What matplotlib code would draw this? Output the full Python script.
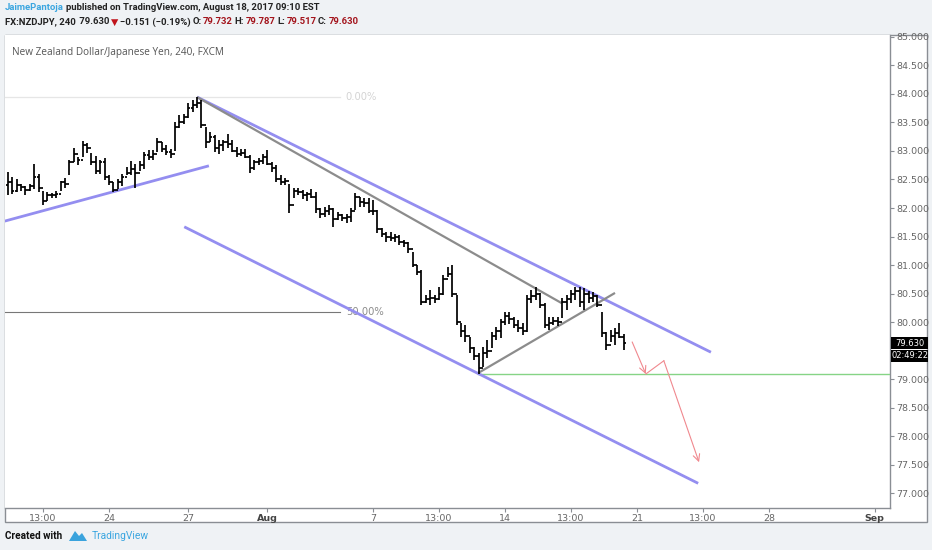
import matplotlib
matplotlib.use("Agg")
import matplotlib.pyplot as plt
from matplotlib.collections import LineCollection
from matplotlib.patches import Rectangle, Polygon

W, H = 932, 550

# 4h bars, FX:NZDJPY (bar 0 = Jul 19)
highs = [82.63, 82.55, 82.50, 82.42, 82.38, 82.42, 82.78, 82.60, 82.30, 82.28,
         82.27, 82.30, 82.48, 82.52, 82.84, 83.05, 82.90, 83.17, 83.14, 82.97,
         82.92, 82.85, 82.88, 82.58, 82.46, 82.50, 82.60, 82.72, 82.82, 82.77,
         82.82, 82.98, 83.02, 83.02, 83.23, 83.15, 83.10, 83.03, 83.50, 83.63,
         83.65, 83.84, 83.89, 83.947, 83.89, 83.42, 83.33, 83.28, 83.20, 83.20,
         83.30, 83.20, 83.07, 83.03, 83.03, 82.93, 82.85, 82.88, 82.95, 83.02,
         82.80, 82.75, 82.58, 82.52, 82.42, 82.35, 82.35, 82.32, 82.28, 82.33,
         82.28, 82.00, 82.02, 82.05, 82.00, 81.93, 81.90, 81.90, 82.00, 82.26,
         82.19, 82.17, 82.18, 82.14, 81.97, 81.65, 81.58, 81.58, 81.54, 81.53,
         81.44, 81.40, 81.23, 81.00, 80.91, 80.47, 80.56, 80.47, 80.61, 80.82,
         80.96, 81.00, 80.47, 79.98, 79.95, 79.74, 79.56, 79.46, 79.56, 79.68,
         79.82, 79.91, 80.05, 80.18, 80.18, 80.09, 80.04, 79.98, 80.47, 80.56,
         80.61, 80.51, 80.33, 80.09, 80.09, 80.09, 80.42, 80.47, 80.56, 80.61,
         80.61, 80.60, 80.55, 80.53, 80.47, 80.18, 79.82, 79.86, 79.89, 79.98,
         79.787]
lows = [82.23, 82.25, 82.28, 82.30, 82.22, 82.30, 82.33, 82.28, 82.05, 82.12,
        82.18, 82.18, 82.30, 82.35, 82.58, 82.80, 82.75, 82.90, 82.97, 82.75,
        82.60, 82.60, 82.49, 82.40, 82.28, 82.33, 82.38, 82.58, 82.58, 82.35,
        82.65, 82.68, 82.85, 82.85, 82.98, 82.98, 82.93, 82.88, 83.00, 83.40,
        83.48, 83.58, 83.68, 83.75, 83.40, 83.05, 83.15, 82.98, 82.95, 83.00,
        83.05, 82.98, 82.90, 82.92, 82.88, 82.62, 82.67, 82.75, 82.77, 82.75,
        82.63, 82.45, 82.40, 82.40, 81.92, 82.18, 82.22, 82.15, 82.12, 82.17,
        81.92, 81.82, 81.84, 81.88, 81.67, 81.79, 81.77, 81.74, 81.75, 81.96,
        82.02, 82.02, 81.91, 81.88, 81.57, 81.49, 81.40, 81.42, 81.40, 81.35,
        81.32, 81.21, 80.96, 80.83, 80.30, 80.33, 80.30, 80.33, 80.39, 80.47,
        80.79, 80.44, 79.95, 79.74, 79.65, 79.46, 79.33, 79.09, 79.21, 79.37,
        79.54, 79.68, 79.72, 79.95, 79.97, 79.90, 79.83, 79.77, 79.83, 80.33,
        80.39, 80.25, 79.89, 79.86, 79.95, 79.93, 80.07, 80.21, 80.33, 80.39,
        80.26, 80.21, 80.33, 80.35, 80.26, 79.74, 79.51, 79.65, 79.60, 79.72,
        79.517]
closes = [82.45, 82.30, 82.40, 82.36, 82.32, 82.38, 82.55, 82.35, 82.12, 82.22,
          82.22, 82.25, 82.45, 82.42, 82.80, 82.95, 82.85, 83.10, 83.05, 82.80,
          82.65, 82.80, 82.55, 82.45, 82.32, 82.45, 82.55, 82.62, 82.68, 82.62,
          82.75, 82.93, 82.90, 82.95, 83.15, 83.03, 82.98, 82.95, 83.42, 83.50,
          83.60, 83.75, 83.80, 83.85, 83.45, 83.15, 83.25, 83.05, 83.10, 83.15,
          83.12, 83.00, 82.95, 82.97, 82.90, 82.70, 82.80, 82.82, 82.90, 82.78,
          82.70, 82.50, 82.45, 82.47, 82.05, 82.30, 82.28, 82.22, 82.25, 82.20,
          81.98, 81.90, 81.95, 81.98, 81.80, 81.88, 81.82, 81.85, 81.95, 82.20,
          82.10, 82.08, 81.95, 81.95, 81.63, 81.55, 81.50, 81.48, 81.50, 81.40,
          81.38, 81.28, 81.00, 80.88, 80.35, 80.40, 80.42, 80.40, 80.50, 80.75,
          80.85, 80.50, 80.00, 79.85, 79.75, 79.55, 79.40, 79.20, 79.45, 79.50,
          79.75, 79.85, 80.00, 80.10, 80.05, 79.95, 79.90, 79.85, 80.40, 80.45,
          80.50, 80.30, 79.95, 79.98, 80.02, 80.00, 80.35, 80.40, 80.50, 80.55,
          80.35, 80.50, 80.42, 80.45, 80.30, 79.80, 79.60, 79.75, 79.80, 79.732,
          79.630]
first_open = 82.40
opens = [first_open] + closes[:-1]

# time axis (bar index -> label)
tick_pos = [8, 23, 41, 59, 83, 98, 113, 128, 143, 158, 173, 197]
tick_labels = ["13:00", "24", "27", "Aug", "7", "13:00", "14", "13:00", "21", "13:00", "28", "Sep"]
price_ticks = [77.0, 77.5, 78.0, 78.5, 79.0, 79.5, 80.0, 80.5, 81.0, 81.5, 82.0, 82.5, 83.0, 83.5, 84.0, 84.5, 85.0]

# drawings (bar index, price)
trend_up_left = [(-0.7, 81.77), (45.7, 82.74)]
channel_top = [(43.0, 83.947), (159.8, 79.47)]
channel_bottom = [(40.1, 81.67), (156.9, 77.17)]
gray_down = [(43.0, 83.947), (125.9, 80.33)]
gray_up = [(106.9, 79.105), (138.0, 80.51)]
support_level = 79.088
fib_0, fib_50 = 83.947, 80.175
red_path = [(141.9, 79.65), (145.0, 79.088), (149.1, 79.32), (157.1, 77.54)]
last_price = "79.630"
countdown = "02:49:22"

fig = plt.figure(figsize=(W / 100, H / 100), dpi=100)
fig.patch.set_facecolor("#eff2f5")

def fx(x):
    return x / W

def fy(y):
    return 1 - y / H

# white chart panel incl. the axes area
fig.patches.append(Rectangle((fx(5), fy(522)), fx(927) - fx(5), fy(35) - fy(522),
                             transform=fig.transFigure, facecolor="white",
                             edgecolor="#8a8e94", lw=1.0, zorder=-5))

ax = fig.add_axes([fx(5), fy(508), fx(890) - fx(5), fy(35) - fy(508)])
ax.set_zorder(1)
ax.set_facecolor("white")
ax.set_xlim(-0.64, 200.5)
ax.set_ylim(76.737, 85.035)

for s in ["top", "left"]:
    ax.spines[s].set_visible(False)
for s in ["right", "bottom"]:
    ax.spines[s].set_color("#8a8e94")
    ax.spines[s].set_linewidth(1.0)

ax.yaxis.tick_right()
ax.set_yticks(price_ticks)
# the 79.500 label sits under the last-price tag
ax.set_yticklabels(["" if v == 79.5 else f"{v:.3f}" for v in price_ticks])
ax.tick_params(axis="y", length=3, width=0.8, color="#8a8e94", labelcolor="#666666",
               labelsize=6.8, pad=1.5)
ax.set_xticks(tick_pos)
ax.set_xticklabels(tick_labels)
ax.tick_params(axis="x", length=3, width=0.8, color="#8a8e94", labelcolor="#666666",
               labelsize=6.8, pad=1.5)
for lab in ax.get_xticklabels():
    if lab.get_text() in ("Aug", "Sep"):
        lab.set_fontweight("bold")
        lab.set_color("#444444")

# OHLC bars
segs = []
for i in range(len(closes)):
    segs.append([(i, lows[i]), (i, highs[i])])
    segs.append([(i - 0.48, opens[i]), (i, opens[i])])
    segs.append([(i, closes[i]), (i + 0.48, closes[i])])
ax.add_collection(LineCollection(segs, colors="black", linewidths=1.25, zorder=5))

# fib levels
ax.plot([-1, 75.5], [fib_0, fib_0], color="#e6e6e6", lw=0.9, zorder=2)
ax.plot([-1, 75.5], [fib_50, fib_50], color="#777777", lw=0.8, zorder=2)
ax.text(76.8, fib_0, "0.00%", color="#d4d4d4", fontsize=7.2, va="center", ha="left")
ax.text(77.0, fib_50, "50.00%", color="#8c8c8c", fontsize=7.2, va="center", ha="left")

blue = "#948ef0"
for line in (trend_up_left, channel_top, channel_bottom):
    xs, ys = zip(*line)
    ax.plot(xs, ys, color=blue, lw=2.0, solid_capstyle="butt", zorder=4)
for line in (gray_down, gray_up):
    xs, ys = zip(*line)
    ax.plot(xs, ys, color="#8c8c8c", lw=1.6, solid_capstyle="butt", zorder=4)

ax.plot([106.9, 201], [support_level, support_level], color="#86d486", lw=1.0, zorder=3)

red = "#f0888e"
ax.plot([red_path[1][0], red_path[2][0]], [red_path[1][1], red_path[2][1]], color=red, lw=0.8, zorder=6)
for a, b in ((red_path[0], red_path[1]), (red_path[2], red_path[3])):
    ax.annotate("", xy=b, xytext=a,
                arrowprops=dict(arrowstyle="->", color=red, lw=0.8,
                                mutation_scale=12, shrinkA=0, shrinkB=0), zorder=6)

ax.text(0.008, 0.975, "New Zealand Dollar/Japanese Yen, 240, FXCM", transform=ax.transAxes,
        color="#555555", fontsize=7.2, va="top", ha="left", family="Open Sans")

# last price tag on the price scale
for y0, y1, s in ((337, 349, last_price), (350, 362, countdown)):
    fig.patches.append(Rectangle((fx(891), fy(y1)), fx(928) - fx(891), fy(y0) - fy(y1),
                                 transform=fig.transFigure, facecolor="black", lw=0, zorder=5))
    fig.text(fx(909.5), fy((y0 + y1) / 2), s, color="white", fontsize=6.0,
             ha="center", va="center", zorder=6)

# header
renderer = fig.canvas.get_renderer()

def chain(x, y, parts, size, gap=2.5):
    for s, c in parts:
        t = fig.text(fx(x), fy(y), s, color=c, fontsize=size, ha="left", va="center",
                     family=["Roboto", "DejaVu Sans"], fontweight="bold")
        x = t.get_window_extent(renderer).x1 + gap

dark = "#222222"
dred = "#a3141c"
chain(5, 8, [("JaimePantoja", "#3ba6e0"),
             ("published on TradingView.com, August 18, 2017 09:10 EST", dark)], 6.8)
chain(5, 22, [("FX:NZDJPY, 240", dark), (" 79.630", dark), ("▼", "#c0141c"),
              ("\u22120.151 (\u22120.19%)", dark), ("O:", dark), ("79.732", dred),
              ("H:", dark), ("79.787", dred), ("L:", dark), ("79.517", dred),
              ("C:", dark), ("79.630", dred)], 6.8, gap=1.6)

# footer
fig.text(fx(5), fy(536), "Created with", color="#111111", fontsize=7.2, ha="left",
         va="center", family="Roboto", fontweight="bold")
fig.patches.append(Polygon([(fx(69), fy(541)), (fx(75), fy(531)), (fx(79), fy(536)),
                            (fx(82), fy(533)), (fx(87), fy(541))],
                           transform=fig.transFigure, facecolor="#3aa3dd", lw=0))
fig.text(fx(92), fy(536), "TradingView", color="#3ba6e0", fontsize=7.4, ha="left",
         va="center", family="Roboto")

fig.savefig("out.png", dpi=100, facecolor=fig.get_facecolor())
